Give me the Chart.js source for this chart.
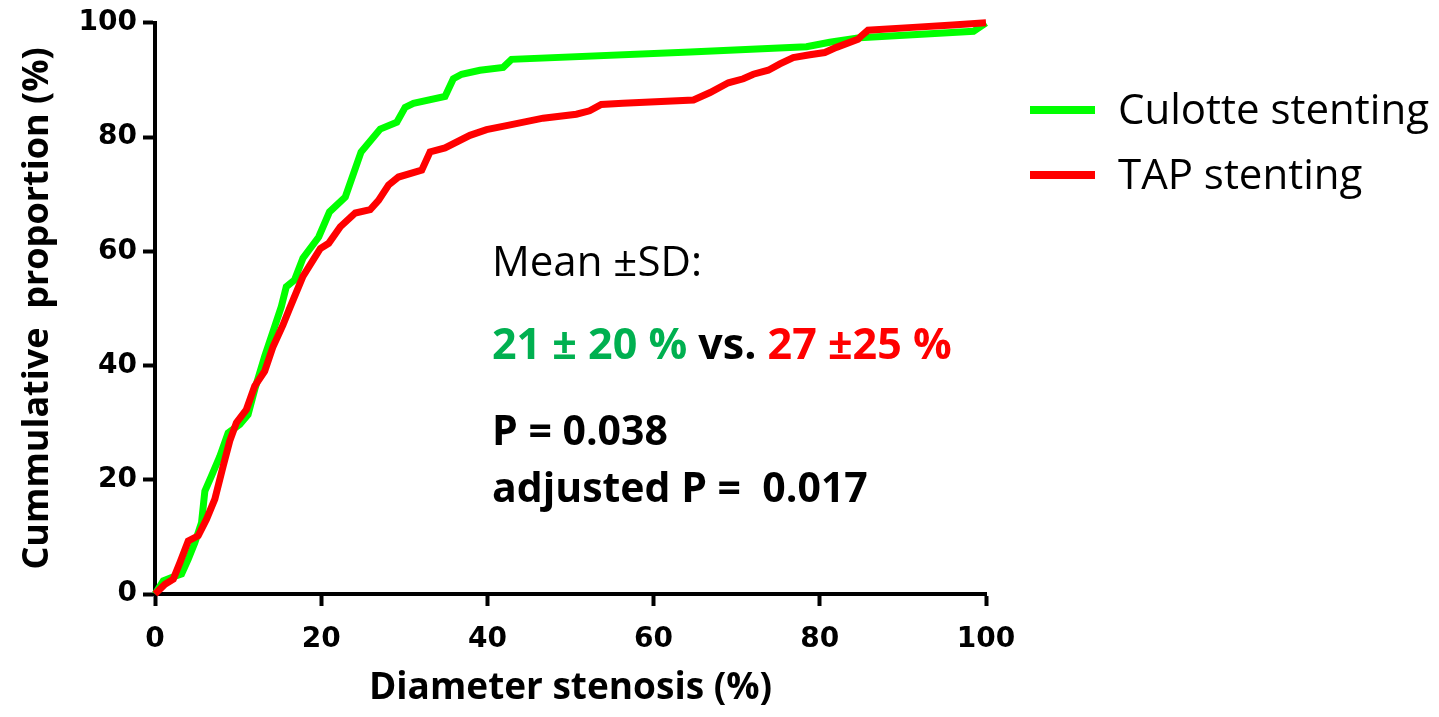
<!DOCTYPE html>
<html>
<head>
<meta charset="utf-8">
<script src="https://cdn.jsdelivr.net/npm/chart.js@4.4.1/dist/chart.umd.min.js"></script>
<style>
  body { margin: 0; background: #fff; }
  #wrap { width: 1439px; height: 717px; position: relative; }
</style>
</head>
<body>
<div id="wrap"><canvas id="myChart"></canvas></div>
<script>
// cumulative distribution
const culotteX = [0, 1, 2, 3.2, 4, 4.8, 5.6, 6, 6.8, 7.8, 8.8, 10.2, 11.2, 12, 13.2, 14.4, 15.2, 15.8, 16.8, 17.8, 19.7, 21, 22.9, 24.8, 27.1, 29.1, 30.1, 31.1, 34.9, 35.9, 36.9, 39.1, 41.9, 42.9, 64.4, 78.4, 81.2, 84.8, 98.5, 100]
const culotteY = [0, 2.3, 2.9, 3.5, 6.1, 9, 12.5, 18, 20.7, 24.1, 28.2, 29.7, 31.4, 35.8, 41.6, 46.8, 50.3, 53.8, 55, 58.8, 62.5, 66.9, 69.5, 77.4, 81.4, 82.6, 85.2, 85.9, 87.1, 90.2, 91, 91.7, 92.2, 93.6, 94.9, 95.8, 96.6, 97.4, 98.5, 100]

const tapX = [0, 1.2, 2.2, 3, 4, 5.2, 6.2, 7.2, 8.2, 9, 9.8, 11, 12, 13.2, 14.2, 15.4, 16.2, 17.8, 19.9, 20.9, 22.3, 24.1, 25.9, 26.9, 28.1, 29.3, 32.1, 33.1, 34.9, 37.9, 39.9, 42.3, 46.7, 50.7, 52.3, 53.7, 56.3, 64.8, 66.8, 69, 70.8, 72, 73.8, 75.2, 76.8, 78.8, 80.6, 82, 84.6, 85, 85.8, 91.2, 96, 100]
const tapY = [0, 1.7, 2.6, 5.5, 9.3, 10.2, 13.1, 16.6, 22.4, 26.8, 30, 32.3, 36.4, 39, 43.3, 47.1, 50, 55.6, 60.5, 61.4, 64.3, 66.7, 67.3, 68.9, 71.6, 73, 74.2, 77.4, 78.1, 80.3, 81.3, 82, 83.3, 84, 84.6, 85.7, 85.9, 86.5, 87.8, 89.5, 90.2, 91, 91.7, 92.8, 93.9, 94.4, 94.8, 95.7, 97.1, 97.7, 98.7, 99.2, 99.6, 100]

const seriesNames = ['Culotte stenting', 'TAP stenting']
const seriesColors = ['#00ff00', '#ff0000']
const xTicks = [0, 20, 40, 60, 80, 100]
const yTicks = [0, 20, 40, 60, 80, 100]

const toPoints = (xs, ys) => xs.map((x, i) => ({x: x, y: ys[i]}))

// legend + the mean/SD text block
const notes = {
    id: 'notes',
    afterDraw(chart) {
        const c = chart.ctx
        c.save()
        // legend
        const legY = [110, 175]
        seriesNames.forEach((name, i) => {
            c.strokeStyle = seriesColors[i]
            c.lineWidth = 8
            c.beginPath()
            c.moveTo(1030, legY[i])
            c.lineTo(1095, legY[i])
            c.stroke()
            c.fillStyle = '#000'
            c.font = '42px "Open Sans"'
            c.textBaseline = 'alphabetic'
            c.fillText(name, 1118, legY[i] + 14)
        })

        const x0 = 492
        c.font = '42px "Open Sans"'
        c.fillStyle = '#000'
        c.fillText('Mean \u00b1SD:', x0, 276)

        const parts = [
            ['21 \u00b1 20 % ', '#00b050'],
            ['vs. ', '#000'],
            ['27 \u00b125 %', '#ff0000']
        ]
        c.font = 'bold 43px "Open Sans"'
        let x = x0
        parts.forEach(p => {
            c.fillStyle = p[1]
            c.fillText(p[0], x, 359)
            x += c.measureText(p[0]).width
        })
        c.font = 'bold 41px "Open Sans"'
        c.fillStyle = '#000'
        c.fillText('P = 0.038', x0, 445)
        c.fillText('adjusted P =  0.017', x0, 502)
        c.restore()
    }
}

const ctx = document.getElementById('myChart').getContext('2d')
const myChart = new Chart(ctx, {
    type: 'line',
    data: {
        datasets: [{
            label: seriesNames[0],
            data: toPoints(culotteX, culotteY),
            borderColor: seriesColors[0],
            borderWidth: 7,
            pointRadius: 0,
            tension: 0,
            clip: false,
            order: 1
        }, {
            label: seriesNames[1],
            data: toPoints(tapX, tapY),
            borderColor: seriesColors[1],
            borderWidth: 7,
            pointRadius: 0,
            tension: 0,
            clip: false,
            order: 0
        }]
    },
    options: {
        responsive: true,
        maintainAspectRatio: false,
        animation: false,
        layout: { padding: { left: 0, top: 21, right: 453, bottom: 0 } },
        plugins: { legend: { display: false }, tooltip: { enabled: false } },
        scales: {
            x: {
                type: 'linear',
                min: 0,
                max: 100,
                afterBuildTicks: s => { s.ticks = xTicks.map(v => ({value: v})) },
                afterFit: s => { s.height = 123 },
                border: { display: true, color: '#000', width: 4 },
                grid: { drawOnChartArea: false, drawTicks: true, tickLength: 12, tickWidth: 4, tickColor: '#000' },
                ticks: {
                    color: '#000',
                    padding: 17,
                    maxRotation: 0,
                    autoSkip: false,
                    font: { family: '"DejaVu Sans"', weight: 'bold', size: 28 }
                },
                title: {
                    display: true,
                    text: 'Diameter stenosis (%)',
                    color: '#000',
                    padding: { top: 0, bottom: 6 },
                    font: { family: '"Open Sans"', weight: 'bold', size: 37 }
                }
            },
            y: {
                min: 0,
                max: 100,
                afterBuildTicks: s => { s.ticks = yTicks.map(v => ({value: v})) },
                afterFit: s => { s.width = 155 },
                border: { display: true, color: '#000', width: 4 },
                grid: { drawOnChartArea: false, drawTicks: true, tickLength: 12, tickWidth: 4, tickColor: '#000' },
                ticks: {
                    color: '#000',
                    padding: 6,
                    autoSkip: false,
                    font: { family: '"DejaVu Sans"', weight: 'bold', size: 28 }
                },
                title: {
                    display: true,
                    text: 'Cummulative  proportion (%)',
                    color: '#000',
                    padding: { top: 16, bottom: 0 },
                    font: { family: '"Open Sans"', weight: 'bold', size: 36 }
                }
            }
        }
    },
    plugins: [notes]
})
</script>
</body>
</html>
